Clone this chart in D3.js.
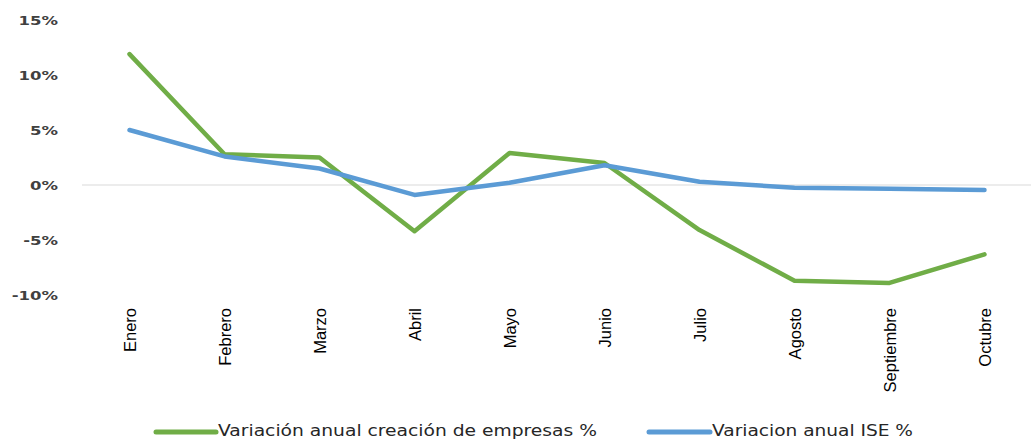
<!DOCTYPE html>
<html>
<head>
<meta charset="utf-8">
<script src="https://cdn.jsdelivr.net/npm/d3@7"></script>
<style>
  body { margin: 0; background: #fff; }
  svg { display: block; }
</style>
</head>
<body>
<svg id="chart"></svg>
<script>
// data
var months = ["Enero", "Febrero", "Marzo", "Abril", "Mayo", "Junio", "Julio", "Agosto", "Septiembre", "Octubre"];
var empresas = [11.9, 2.8, 2.5, -4.2, 2.9, 2.0, -4.1, -8.7, -8.9, -6.3];
var ise = [5.0, 2.6, 1.5, -0.9, 0.2, 1.8, 0.3, -0.25, -0.35, -0.45];
var yTicks = [15, 10, 5, 0, -5, -10];
var seriesNames = ["Variación anual creación de empresas %", "Variacion anual ISE %"];
var colors = ["#70ad47", "#5b9bd5"];

var width = 1031, height = 440;
var svg = d3.select("#chart").attr("width", width).attr("height", height);

var x = d3.scaleBand().domain(months).range([82, 1032]);
var y = d3.scaleLinear().domain([-10, 15]).range([295, 20]);

// zero line
svg.append("line")
    .attr("x1", 82).attr("x2", width)
    .attr("y1", y(0)).attr("y2", y(0))
    .style("stroke", "#d9d9d9")
    .style("stroke-width", 1);

// y labels (the picture's font is stretched wide)
svg.selectAll(".ylab")
    .data(yTicks)
    .enter()
    .append("text")
    .attr("class", "ylab")
    .attr("transform", function(d){ return "translate(58," + y(d) + ") scale(1.27,1)"; })
    .attr("dy", "0.35em")
    .style("text-anchor", "end")
    .style("font", "bold 13px 'DejaVu Sans'")
    .style("fill", "#404040")
    .text(function(d){ return d + "%"; });

// x labels, rotated
svg.selectAll(".xlab")
    .data(months)
    .enter()
    .append("text")
    .attr("class", "xlab")
    .attr("transform", function(d){
        return "translate(" + (x(d) + x.bandwidth()/2 + 6) + ",308) rotate(-90)";
    })
    .style("text-anchor", "end")
    .style("font", "16.5px 'Liberation Sans'")
    .style("fill", "#000")
    .text(function(d){ return d; });

var line = d3.line()
    .x(function(d, i){ return x(months[i]) + x.bandwidth()/2; })
    .y(function(d){ return y(d); });

[empresas, ise].forEach(function(s, k){
    svg.append("path")
        .datum(s)
        .attr("d", line)
        .style("fill", "none")
        .style("stroke", colors[k])
        .style("stroke-width", 4.5)
        .style("stroke-linejoin", "round")
        .style("stroke-linecap", "round");
});

// legend
var legendPos = [[156, 216, 379], [649, 710, 201]];
seriesNames.forEach(function(name, k){
    var p = legendPos[k];
    svg.append("line")
        .attr("x1", p[0]).attr("x2", p[1])
        .attr("y1", 432).attr("y2", 432)
        .style("stroke", colors[k])
        .style("stroke-width", 5)
        .style("stroke-linecap", "round");
    svg.append("text")
        .attr("x", p[1] + 2)
        .attr("y", 436)
        .attr("textLength", p[2])
        .attr("lengthAdjust", "spacingAndGlyphs")
        .style("font", "16px 'DejaVu Sans'")
        .style("fill", "#262626")
        .text(name);
});
</script>
</body>
</html>
